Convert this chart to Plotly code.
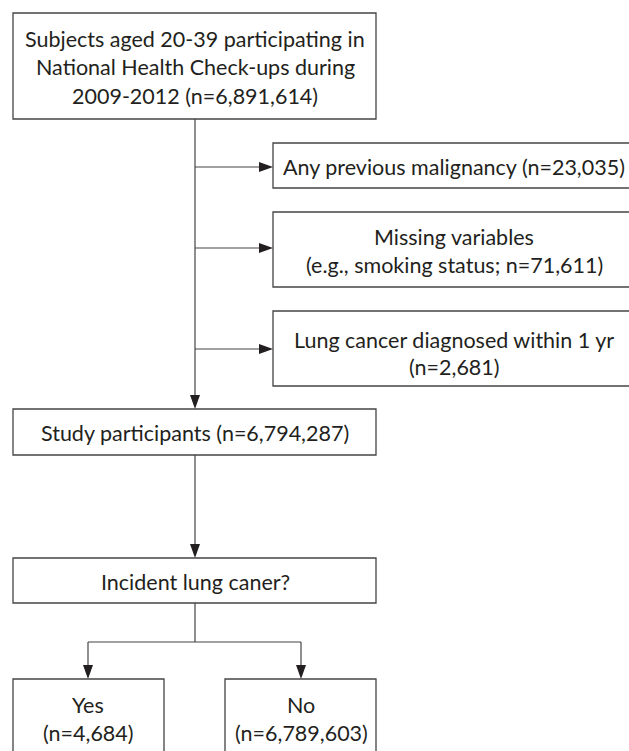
import plotly.graph_objects as go

# Box texts (one entry per line)
top_lines = ["Subjects aged 20-39 participating in", "National Health Check-ups during", "2009-2012 (n=6,891,614)"]
excl_lines = [
    ["Any previous malignancy (n=23,035)"],
    ["Missing variables", "(e.g., smoking status; n=71,611)"],
    ["Lung cancer diagnosed within 1 yr", "(n=2,681)"],
]
study_lines = ["Study participants (n=6,794,287)"]
incident_lines = ["Incident lung caner?"]
yes_lines = ["Yes", "(n=4,684)"]
no_lines = ["No", "(n=6,789,603)"]

W, H = 629, 751
FONT = "Lato"
FS = 21.5
TXT = "#231f20"
LINE = "#444444"
fig = go.Figure()
shapes = []
annots = []

def box(x0, y0, x1, y1):
    shapes.append(dict(type="rect", xref="x", yref="y", x0=x0, y0=y0, x1=x1, y1=y1,
                       line=dict(color=LINE, width=1.3), fillcolor="rgba(0,0,0,0)"))

def line(x0, y0, x1, y1):
    shapes.append(dict(type="line", xref="x", yref="y", x0=x0, y0=y0, x1=x1, y1=y1,
                       line=dict(color=LINE, width=1.2)))

def head_right(x, y, l=14, w=5):
    shapes.append(dict(type="path", xref="x", yref="y",
                       path=f"M {x},{y} L {x-l},{y-w} L {x-l},{y+w} Z",
                       fillcolor="#231f20", line=dict(width=0)))

def head_down(x, y, l=14, w=5):
    shapes.append(dict(type="path", xref="x", yref="y",
                       path=f"M {x},{y} L {x-w},{y-l} L {x+w},{y-l} Z",
                       fillcolor="#231f20", line=dict(width=0)))

def text(lines, cx, ys, size=FS):
    for t, yy in zip(lines, ys):
        annots.append(dict(x=cx, y=yy, xref="x", yref="y", text=t, showarrow=False,
                           xanchor="center", yanchor="middle",
                           font=dict(family=FONT, size=size, color=TXT)))

# top box
box(13, 13, 376, 119)
text(top_lines, 195, [39, 67, 96])

# main vertical line
line(195, 119, 195, 400)
head_down(195, 409)

# exclusion boxes
RX0, RX1 = 273, 640
excl_boxes = [(143, 188, 167), (212, 287, 248), (311, 386, 349)]
excl_text_y = [[167], [237, 265], [340, 367]]
for (y0, y1, ay), lines, tys in zip(excl_boxes, excl_lines, excl_text_y):
    box(RX0, y0, RX1, y1)
    line(195, ay, RX0 - 10, ay)
    head_right(RX0, ay)
    text(lines, 454, tys)

# study participants
box(13, 409, 376, 455)
text(study_lines, 195, [433])
line(195, 455, 195, 550)
head_down(195, 558)

# incident
box(13, 558, 376, 603)
text(incident_lines, 195, [582])
line(195, 603, 195, 642)
line(88, 642, 301, 642)
line(88, 642, 88, 670)
line(301, 642, 301, 670)
head_down(88, 679)
head_down(301, 679)

# yes / no
box(13, 679, 164, 770)
box(225, 679, 376, 770)
text(yes_lines, 88, [705, 733])
text(no_lines, 301, [705, 733])

fig.update_layout(
    width=W, height=H, margin=dict(l=0, r=0, t=0, b=0),
    paper_bgcolor="white", plot_bgcolor="white",
    xaxis=dict(range=[0, W], visible=False, fixedrange=True),
    yaxis=dict(range=[H, 0], visible=False, fixedrange=True),
    shapes=shapes, annotations=annots, showlegend=False,
)
fig.write_html("out.html", config={"displayModeBar": False},
               post_script="document.body.style.margin='0';document.body.style.overflow='hidden';")
